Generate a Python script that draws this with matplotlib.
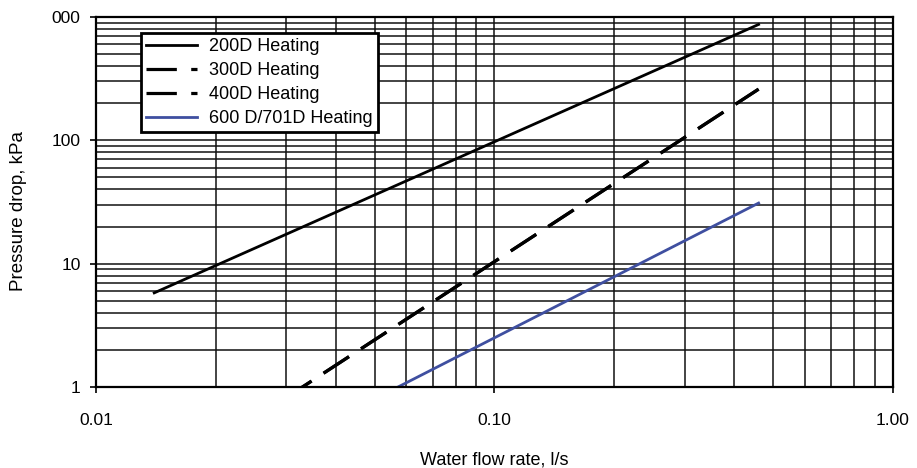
import matplotlib.pyplot as plt
from matplotlib.ticker import FixedLocator, FixedFormatter, NullFormatter

plt.rcParams['font.family'] = ['Liberation Sans', 'DejaVu Sans']

# Datos (caudal l/s, caida de presion kPa)
flow_200 = [0.014, 0.46]
dp_200 = [5.8, 870]

flow_300 = [0.03, 0.46]
dp_300 = [0.82, 260]

flow_400 = [0.03, 0.46]
dp_400 = [0.82, 260]

flow_600 = [0.05, 0.46]
dp_600 = [0.8, 31]

x_ticks = [0.01, 0.1, 1.0]
x_labels = ['0.01', '0.10', '1.00']
y_ticks = [1, 10, 100, 1000]
y_labels = ['1', '10', '100', '000']

fig = plt.figure(figsize=(9.17, 4.68), dpi=100)
ax = fig.add_axes([0.1047, 0.173, 0.8691, 0.7907])

ax.plot(flow_200, dp_200, color='black', lw=2.0, label='200D Heating')
ax.plot(flow_300, dp_300, color='black', lw=2.3, dashes=(9.5, 4.5), label='300D Heating')
ax.plot(flow_400, dp_400, color='black', lw=2.3, dashes=(9.5, 4.5), label='400D Heating')
ax.plot(flow_600, dp_600, color='#3F4FA0', lw=2.0, label='600 D/701D Heating')

ax.set_xscale('log')
ax.set_yscale('log')
ax.set_xlim(0.01, 1.0)
ax.set_ylim(1, 1000)

ax.xaxis.set_major_locator(FixedLocator(x_ticks))
ax.xaxis.set_major_formatter(FixedFormatter(x_labels))
ax.yaxis.set_major_locator(FixedLocator(y_ticks))
ax.yaxis.set_major_formatter(FixedFormatter(y_labels))
ax.xaxis.set_minor_formatter(NullFormatter())
ax.yaxis.set_minor_formatter(NullFormatter())

ax.grid(True, which='both', color='#111111', lw=1.1)
ax.tick_params(which='major', direction='out', length=4, width=1.2, labelsize=12.5, color='black')
ax.tick_params(which='minor', length=0)
ax.tick_params(axis='x', pad=15)
ax.tick_params(axis='y', pad=7)
for s in ax.spines.values():
    s.set_linewidth(1.6)
    s.set_color('black')

ax.set_xlabel('Water flow rate, l/s', fontsize=13)
ax.set_ylabel('Pressure drop, kPa', fontsize=13.5)
ax.xaxis.set_label_coords(0.5, -0.173)
ax.yaxis.set_label_coords(-0.087, 0.476)

leg = ax.legend(loc='upper left', bbox_to_anchor=(0.056, 0.957), borderaxespad=0,
                fontsize=13, fancybox=False, framealpha=1, edgecolor='black',
                handlelength=2.8, handletextpad=0.7, labelspacing=0.38, borderpad=0.3)
leg.get_frame().set_linewidth(2)

plt.savefig('out.png', dpi=100)
